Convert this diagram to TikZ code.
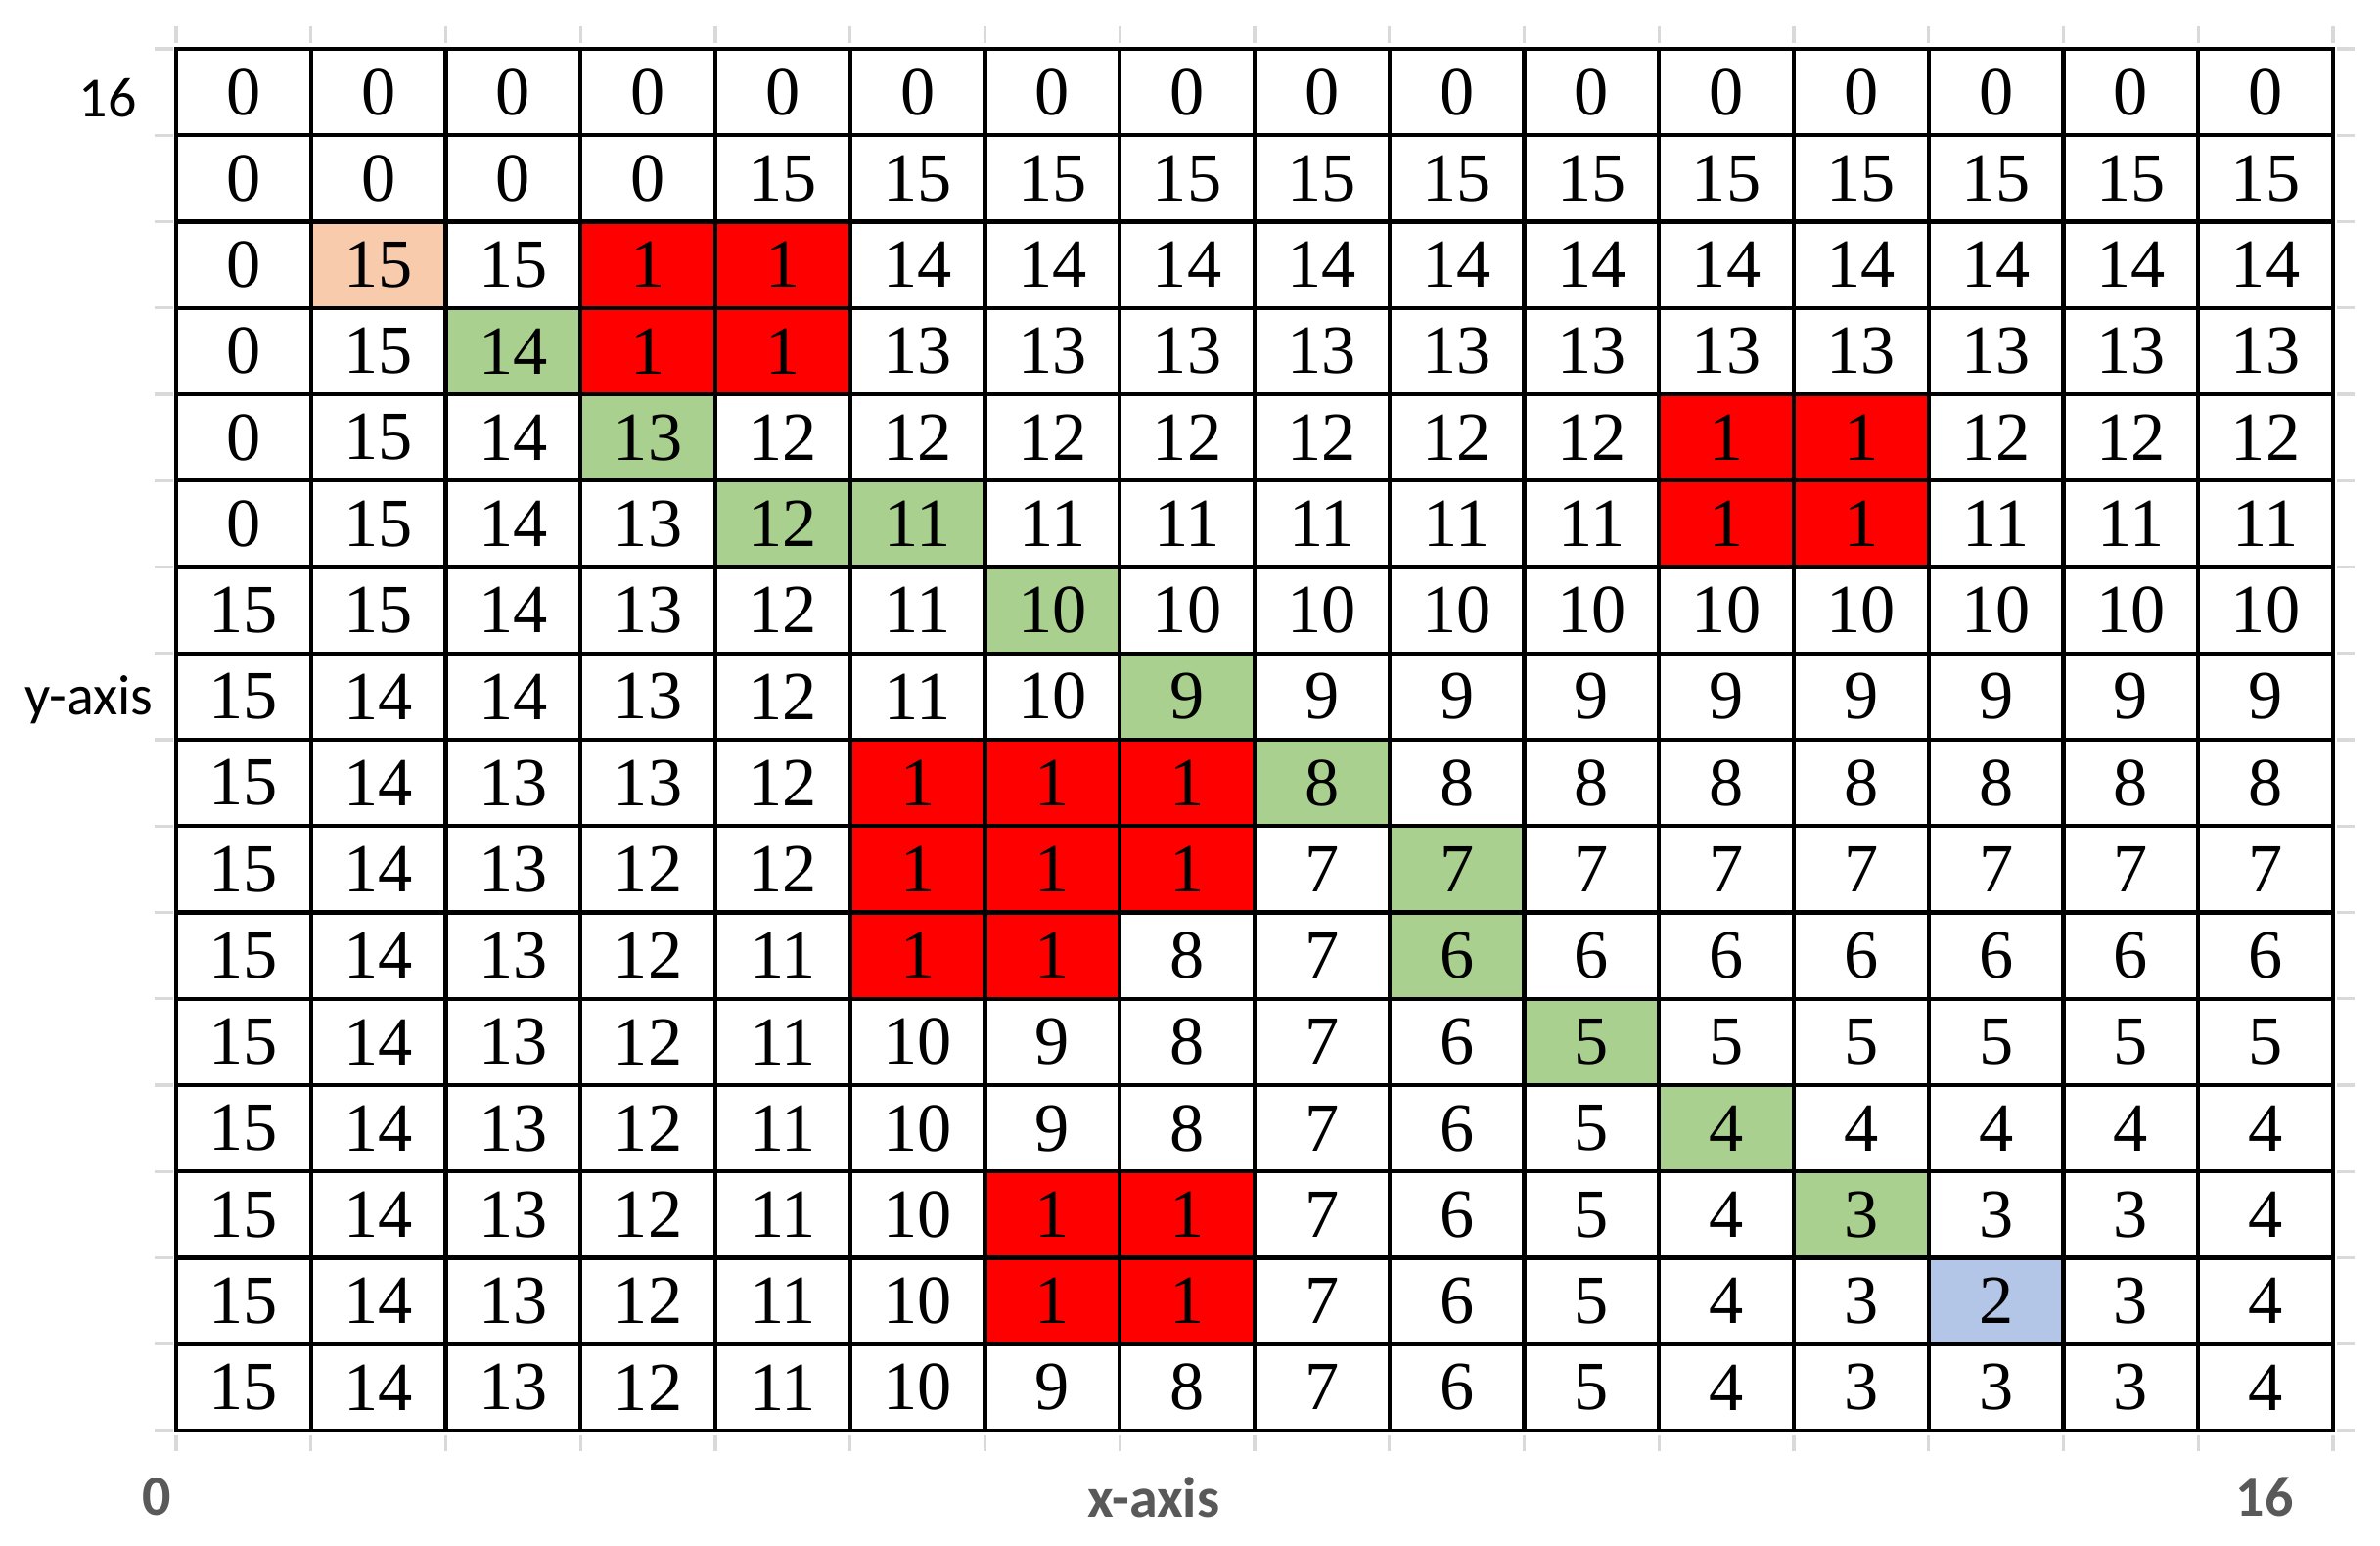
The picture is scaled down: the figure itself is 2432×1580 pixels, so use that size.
\documentclass[tikz,border=0pt]{standalone}
\usepackage{fontspec}
\setmainfont{Liberation Serif}
\newfontfamily\cellfont{Liberation Serif}
\newfontfamily\labfont{Carlito}
\definecolor{cw}{HTML}{FFFFFF}
\definecolor{cr}{HTML}{FF0000}
\definecolor{cg}{HTML}{A9D08E}
\definecolor{cp}{HTML}{F8CBAD}
\definecolor{cb}{HTML}{B4C6E7}
\definecolor{tickgray}{HTML}{D9D9D9}
\definecolor{labgray}{HTML}{595959}
\begin{document}
\begin{tikzpicture}[x=0.01cm,y=-0.01cm,
  cell/.style={draw=black,line width=1.25pt,minimum width=1.3775cm,minimum height=0.8825cm,
    inner sep=0pt,font=\cellfont\fontsize{20}{24}\selectfont,anchor=center},
  tickline/.style={draw=tickgray,line width=0.9pt},
  axlab/.style={font=\labfont\fontsize{16.5}{20}\selectfont,text=black},
  axlabb/.style={font=\labfont\bfseries\fontsize{16.5}{20}\selectfont,text=labgray}]
\useasboundingbox[fill=white] (0,0) rectangle (2432,1580);
% ticks
\foreach \i in {0,...,16}{
  \draw[tickline] ({180+\i*137.75},27) -- ({180+\i*137.75},44);
  \draw[tickline] ({180+\i*137.75},1467) -- ({180+\i*137.75},1483);
  \draw[tickline] (158,{50+\i*88.25}) -- (177,{50+\i*88.25});
  \draw[tickline] (2388,{50+\i*88.25}) -- (2406,{50+\i*88.25});
}
% cells
\foreach \row [count=\r] in {
 {0/w,0/w,0/w,0/w,0/w,0/w,0/w,0/w,0/w,0/w,0/w,0/w,0/w,0/w,0/w,0/w},
 {0/w,0/w,0/w,0/w,15/w,15/w,15/w,15/w,15/w,15/w,15/w,15/w,15/w,15/w,15/w,15/w},
 {0/w,15/p,15/w,1/r,1/r,14/w,14/w,14/w,14/w,14/w,14/w,14/w,14/w,14/w,14/w,14/w},
 {0/w,15/w,14/g,1/r,1/r,13/w,13/w,13/w,13/w,13/w,13/w,13/w,13/w,13/w,13/w,13/w},
 {0/w,15/w,14/w,13/g,12/w,12/w,12/w,12/w,12/w,12/w,12/w,1/r,1/r,12/w,12/w,12/w},
 {0/w,15/w,14/w,13/w,12/g,11/g,11/w,11/w,11/w,11/w,11/w,1/r,1/r,11/w,11/w,11/w},
 {15/w,15/w,14/w,13/w,12/w,11/w,10/g,10/w,10/w,10/w,10/w,10/w,10/w,10/w,10/w,10/w},
 {15/w,14/w,14/w,13/w,12/w,11/w,10/w,9/g,9/w,9/w,9/w,9/w,9/w,9/w,9/w,9/w},
 {15/w,14/w,13/w,13/w,12/w,1/r,1/r,1/r,8/g,8/w,8/w,8/w,8/w,8/w,8/w,8/w},
 {15/w,14/w,13/w,12/w,12/w,1/r,1/r,1/r,7/w,7/g,7/w,7/w,7/w,7/w,7/w,7/w},
 {15/w,14/w,13/w,12/w,11/w,1/r,1/r,8/w,7/w,6/g,6/w,6/w,6/w,6/w,6/w,6/w},
 {15/w,14/w,13/w,12/w,11/w,10/w,9/w,8/w,7/w,6/w,5/g,5/w,5/w,5/w,5/w,5/w},
 {15/w,14/w,13/w,12/w,11/w,10/w,9/w,8/w,7/w,6/w,5/w,4/g,4/w,4/w,4/w,4/w},
 {15/w,14/w,13/w,12/w,11/w,10/w,1/r,1/r,7/w,6/w,5/w,4/w,3/g,3/w,3/w,4/w},
 {15/w,14/w,13/w,12/w,11/w,10/w,1/r,1/r,7/w,6/w,5/w,4/w,3/w,2/b,3/w,4/w},
 {15/w,14/w,13/w,12/w,11/w,10/w,9/w,8/w,7/w,6/w,5/w,4/w,3/w,3/w,3/w,4/w}}{
  \foreach \v/\f [count=\c] in \row {
    \node[cell,fill=c\f] (r\r c\c) at ({180+(\c-0.5)*137.75},{50+(\r-0.5)*88.25}) {\v};
  }
}
% labels
\node[axlab] (ytop) at (110,100) {16};
\node[axlab] (ylab) at (91,715) {y-axis};
\node[axlabb] (xzero) at (160,1530) {0};
\node[axlabb] (xlab) at (1179,1530) {x-axis};
\node[axlabb] (xend) at (2314,1530) {16};
\end{tikzpicture}
\end{document}
